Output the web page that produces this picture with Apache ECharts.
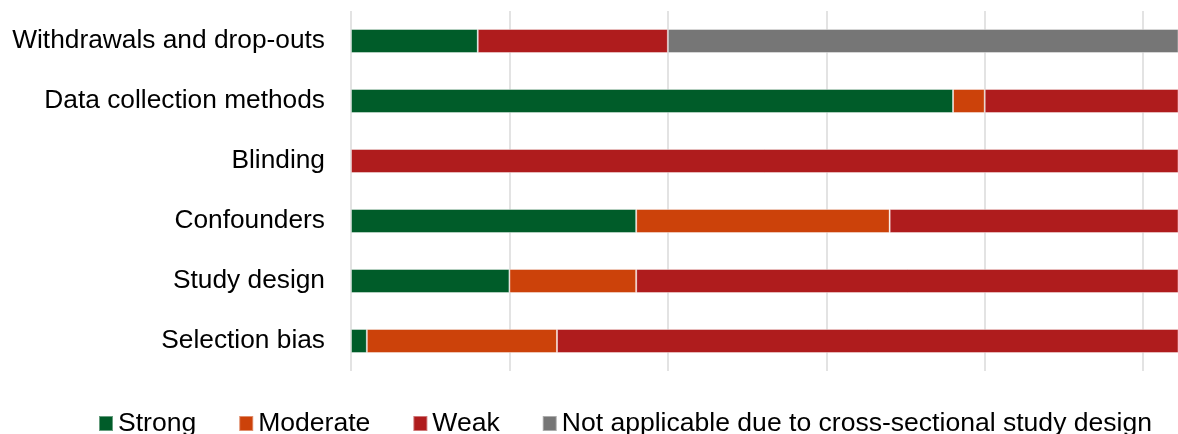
<!DOCTYPE html>
<html>
<head>
<meta charset="utf-8">
<script src="https://cdn.jsdelivr.net/npm/echarts@6/dist/echarts.min.js"></script>
<style>
  html, body { margin: 0; padding: 0; background: #ffffff; }
  #chart { width: 1178px; height: 434px; }
</style>
</head>
<body>
<div id="chart"></div>
<script>
// Quality assessment ratings per component (number of studies)
const categories = [
  'Selection bias',
  'Study design',
  'Confounders',
  'Blinding',
  'Data collection methods',
  'Withdrawals and drop-outs'
];
const strong        = [1, 10, 18, 0, 38, 8];
const moderate      = [12, 8, 16, 0, 2, 0];
const weak          = [42, 37, 21, 55, 15, 12];
const notApplicable = [0, 0, 0, 0, 0, 35];

const seriesNames = ['Strong', 'Moderate', 'Weak', 'Not applicable due to cross-sectional study design'];
const seriesValues = [strong, moderate, weak, notApplicable];
const seriesColors = ['#005c29', '#cc420a', '#af1c1d', '#767676'];

const FONT = '"Liberation Sans", Arial, sans-serif';

const chart = echarts.init(document.getElementById('chart'), null, { renderer: 'canvas' });

chart.setOption({
  animation: false,
  backgroundColor: '#ffffff',
  grid: { left: 351, top: 11, bottom: 63, right: 0, containLabel: false },
  xAxis: {
    type: 'value',
    min: 0,
    max: 52.2,          // visible part of the axis; bars run on past the edge
    interval: 10,
    axisLine: { show: false },
    axisTick: { show: false },
    axisLabel: { show: false },
    splitLine: { show: true, showMaxLine: false, lineStyle: { color: '#dadada', width: 1.5 } }
  },
  yAxis: {
    type: 'category',
    data: categories,
    axisLine: { show: false },
    axisTick: { show: false },
    axisLabel: {
      margin: 26,
      color: '#000000',
      fontFamily: FONT,
      fontSize: 26.3
    }
  },
  legend: {
    left: 98,
    top: 410,
    padding: 0,
    icon: 'rect',
    itemWidth: 14,
    itemHeight: 15,
    itemGap: 42,
    textStyle: {
      color: '#000000',
      fontFamily: FONT,
      fontSize: 26.55
    },
    data: seriesNames
  },
  series: seriesNames.map((name, i) => ({
    name: name,
    type: 'bar',
    stack: 'total',
    barWidth: 24,
    clip: true,
    color: seriesColors[i],
    itemStyle: {
      color: seriesColors[i],
      borderColor: 'rgba(255,255,255,0.4)',
      borderWidth: 1
    },
    data: seriesValues[i].map(v => (v === 0 ? '-' : v))
  }))
});
</script>
</body>
</html>
